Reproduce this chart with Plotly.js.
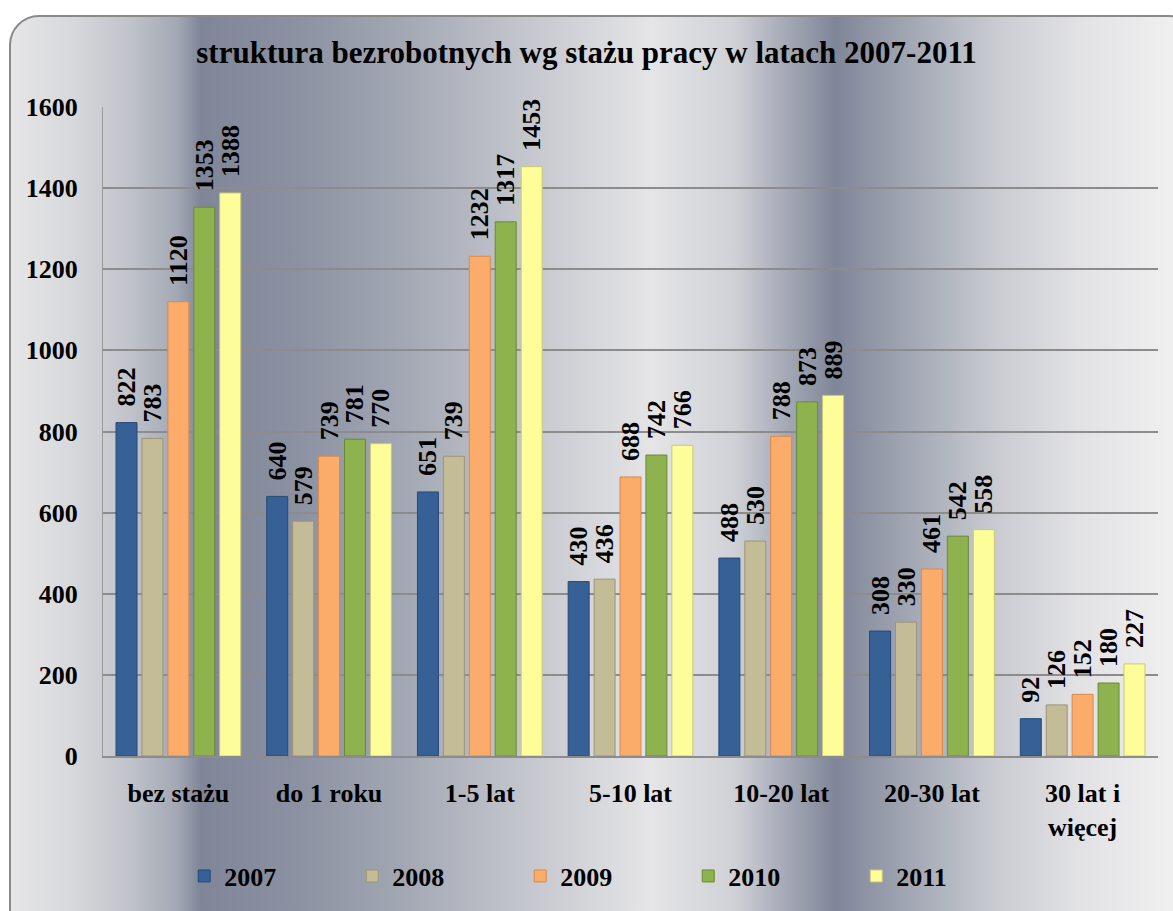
<!DOCTYPE html>
<html>
<head>
<meta charset="utf-8">
<script src="https://cdn.plot.ly/plotly-3.0.1.min.js"></script>
<style>
  html, body { margin: 0; padding: 0; background: #ffffff; }
  #wrap { position: relative; width: 1173px; height: 911px; overflow: hidden; background: #ffffff; }
  #box {
    position: absolute; left: 9px; top: 15px; width: 1190px; height: 930px;
    border: 2px solid #8a8a8a; border-radius: 30px; box-sizing: border-box;
    background: linear-gradient(90deg,
      #e6e6e8 0%, #d8d9dc 5%, #c0c3ca 10%, #a3a8b4 14%, #7f8698 16%,
      #8b91a1 24%, #a2a7b3 33%, #c3c5cc 43%, #e5e5e7 54%, #cfd1d6 61%,
      #a4a8b5 65.5%, #7f8698 69.5%, #a3a8b4 76%, #c9cbd1 83%, #e2e2e5 90%, #f3f3f3 100%);
  }
  #chart { position: absolute; left: 0; top: 0; width: 1173px; height: 911px; }
</style>
</head>
<body>
<div id="wrap">
  <div id="box"></div>
  <div id="chart"></div>
</div>
<script>
const categories = ['bez stażu', 'do 1 roku', '1-5 lat', '5-10 lat', '10-20 lat', '20-30 lat', '30 lat i<br>więcej'];
const years = ['2007', '2008', '2009', '2010', '2011'];
const v2007 = [822, 640, 651, 430, 488, 308, 92];
const v2008 = [783, 579, 739, 436, 530, 330, 126];
const v2009 = [1120, 739, 1232, 688, 788, 461, 152];
const v2010 = [1353, 781, 1317, 742, 873, 542, 180];
const v2011 = [1388, 770, 1453, 766, 889, 558, 227];
const seriesValues = [v2007, v2008, v2009, v2010, v2011];
const colors = ['#376196', '#c4bc96', '#fbab6a', '#8eb24e', '#fdfd9a'];
const edgeColors = ['#274a76', '#9c9574', '#d98a4c', '#6a8a34', '#c9c976'];

const FONT = '"Liberation Serif", "Times New Roman", serif';

const traces = years.map((y, i) => ({
  type: 'bar',
  name: y,
  x: categories,
  y: seriesValues[i],
  text: seriesValues[i].map(v => '\u00a0\u00a0' + v),
  textposition: 'outside',
  textangle: -90,
  constraintext: 'none',
  cliponaxis: false,
  textfont: { family: FONT, size: 26, color: '#000000', weight: 'bold' },
  marker: { color: colors[i], line: { color: edgeColors[i], width: 1 } },
  hoverinfo: 'x+y+name'
}));

const layout = {
  width: 1173,
  height: 911,
  paper_bgcolor: 'rgba(0,0,0,0)',
  plot_bgcolor: 'rgba(0,0,0,0)',
  margin: { l: 103, r: 15, t: 107, b: 149 },
  font: { family: FONT, size: 26, color: '#000000', weight: 'bold' },
  title: {
    text: '<b>struktura bezrobotnych wg stażu pracy w latach 2007-2011</b>',
    font: { family: FONT, size: 31, color: '#000000' },
    x: 0.5, xanchor: 'center', xref: 'container',
    y: 0.943, yanchor: 'middle', yref: 'container'
  },
  barmode: 'group',
  bargap: 0.14,
  bargroupgap: 0.19,
  xaxis: {
    showgrid: false,
    showline: true,
    linecolor: '#8c8c8c',
    linewidth: 2,
    ticks: '',
    tickfont: { family: FONT, size: 26, color: '#000000', weight: 'bold' },
    ticklabelstandoff: 13,
    fixedrange: true
  },
  yaxis: {
    range: [0, 1600],
    dtick: 200,
    showgrid: true,
    gridcolor: '#8c8c8c',
    gridwidth: 2,
    showline: true,
    linecolor: '#9a9a9a',
    linewidth: 1,
    zeroline: false,
    ticks: '',
    tickfont: { family: FONT, size: 26, color: '#000000', weight: 'bold' },
    ticklabelstandoff: 19,
    fixedrange: true
  },
  showlegend: true,
  legend: {
    orientation: 'h',
    x: 0.077, xanchor: 'left',
    y: -0.185, yanchor: 'middle',
    font: { family: FONT, size: 26, color: '#000000', weight: 'bold' },
    entrywidth: 123,
    entrywidthmode: 'pixels',
    itemwidth: 30,
    bgcolor: 'rgba(0,0,0,0)',
    traceorder: 'normal'
  }
};

Plotly.newPlot('chart', traces, layout, { displayModeBar: false, staticPlot: true });
</script>
</body>
</html>
